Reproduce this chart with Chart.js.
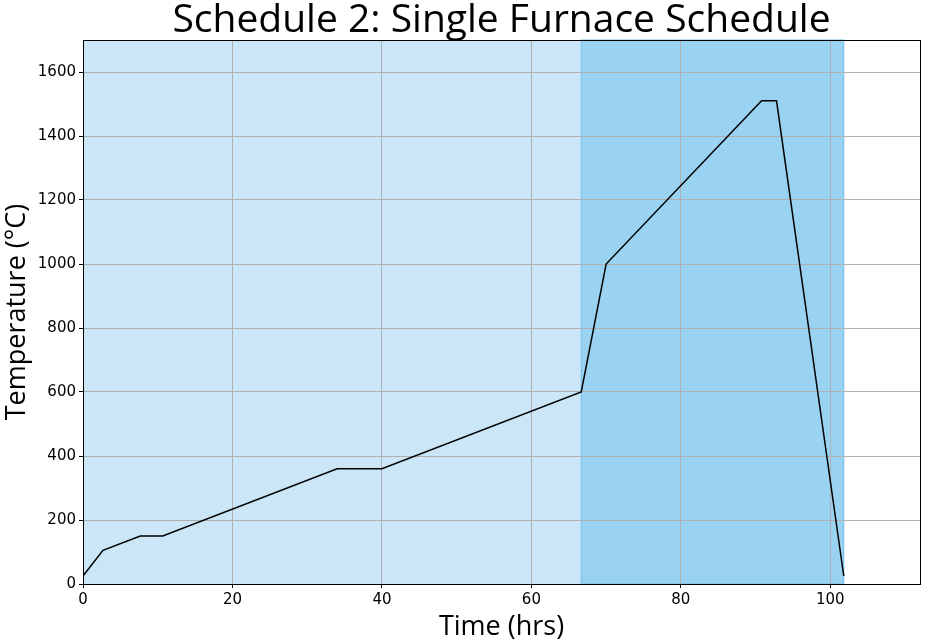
<!DOCTYPE html>
<html>
<head>
<meta charset="utf-8">
<script src="https://cdn.jsdelivr.net/npm/chart.js@4"></script>
<style>
  html, body { margin: 0; padding: 0; background: #fff; }
  #wrap { width: 927px; height: 644px; }
</style>
</head>
<body>
<div id="wrap"><canvas id="furnaceChart"></canvas></div>
<script>
// schedule data (hours, deg C)
var times = [0, 2.67, 7.67, 10.67, 34, 40, 66.67, 70, 90.8, 92.8, 101.8];
var temps = [25, 105, 150, 150, 360, 360, 600, 1000, 1510, 1510, 25];

// shaded stages
var stageStart = [0, 66.67];
var stageEnd = [66.67, 101.8];
var stageColors = ['rgba(203, 231, 247, 1)', 'rgba(154, 211, 241, 1)'];
var stageEdges = [null, 'rgba(110, 190, 235, 1)'];

var xTicks = [0, 20, 40, 60, 80, 100];
var yTicks = [0, 200, 400, 600, 800, 1000, 1200, 1400, 1600];

var points = times.map(function(t, i) { return { x: t, y: temps[i] }; });

// draw stage spans behind the grid
var spanPlugin = {
  id: 'spans',
  beforeDraw: function(chart) {
    var ctx = chart.ctx, area = chart.chartArea, xs = chart.scales.x;
    ctx.save();
    for (var i = 0; i < stageStart.length; i++) {
      var x0 = xs.getPixelForValue(stageStart[i]);
      var x1 = xs.getPixelForValue(stageEnd[i]);
      ctx.fillStyle = stageColors[i];
      ctx.fillRect(x0, area.top, x1 - x0, area.bottom - area.top);
      if (stageEdges[i]) {
        ctx.strokeStyle = stageEdges[i];
        ctx.lineWidth = 1;
        ctx.strokeRect(x0, area.top, x1 - x0, area.bottom - area.top);
      }
    }
    ctx.restore();
  },
  afterDraw: function(chart) {
    var ctx = chart.ctx, a = chart.chartArea;
    ctx.save();
    ctx.strokeStyle = '#000';
    ctx.lineWidth = 1;
    ctx.strokeRect(Math.round(a.left) + 0.5, Math.round(a.top) + 0.5,
      Math.round(a.right - a.left), Math.round(a.bottom - a.top));
    ctx.restore();
  }
};

var tickFont = { family: "'DejaVu Sans'", size: 15 };
var plainNum = function(v) { return String(v); };

var ctx = document.getElementById('furnaceChart').getContext('2d');
var myChart = new Chart(ctx, {
  type: 'line',
  data: {
    datasets: [{
      label: 'Temperature',
      data: points,
      borderColor: '#000',
      borderWidth: 1.5,
      pointRadius: 0,
      fill: false,
      tension: 0
    }]
  },
  options: {
    responsive: true,
    maintainAspectRatio: false,
    animation: false,
    layout: { padding: { left: 0, right: 7, top: 0, bottom: 0 } },
    plugins: {
      legend: { display: false },
      tooltip: { enabled: false },
      title: {
        display: true,
        fullSize: false,
        text: 'Schedule 2: Single Furnace Schedule',
        color: '#000',
        font: { family: "'Open Sans'", size: 39, weight: 'normal', lineHeight: 1 },
        padding: { top: 1, bottom: 0 }
      }
    },
    scales: {
      x: {
        type: 'linear',
        min: 0,
        max: 112,
        afterBuildTicks: function(scale) { scale.ticks = xTicks.map(function(v) { return { value: v }; }); },
        afterFit: function(scale) { scale.height = 60; },
        ticks: { color: '#000', font: tickFont, padding: 3, maxRotation: 0, callback: plainNum },
        grid: { color: '#b0b0b0', tickColor: '#000', tickLength: 4, lineWidth: 1 },
        border: { display: false },
        title: {
          display: true,
          text: 'Time (hrs)',
          color: '#000',
          font: { family: "'Open Sans'", size: 27, lineHeight: 1.1 },
          padding: { top: 0, bottom: 2 }
        }
      },
      y: {
        min: 0,
        max: 1700,
        afterBuildTicks: function(scale) { scale.ticks = yTicks.map(function(v) { return { value: v }; }); },
        afterFit: function(scale) { scale.width = 83; },
        ticks: { color: '#000', font: tickFont, padding: 3, callback: plainNum },
        grid: { color: '#b0b0b0', tickColor: '#000', tickLength: 4, lineWidth: 1 },
        border: { display: false },
        title: {
          display: true,
          text: 'Temperature (°C)',
          color: '#000',
          font: { family: "'Open Sans'", size: 27, lineHeight: 1.1 },
          padding: { top: 2, bottom: 3 }
        }
      }
    }
  },
  plugins: [spanPlugin]
});
</script>
</body>
</html>
